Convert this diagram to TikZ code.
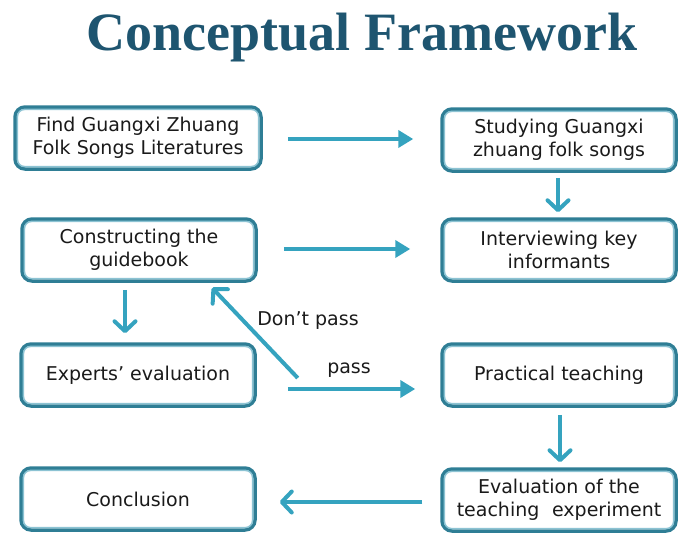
\documentclass[tikz,border=0pt]{standalone}
\usepackage{fontspec}
\setmainfont{DejaVu Sans}
\newfontfamily\titlefont{Liberation Serif}
\usetikzlibrary{arrows.meta,calc}
\definecolor{boxdark}{HTML}{2F7E95}
\definecolor{boxlight}{HTML}{8CC3D3}
\definecolor{arrowteal}{HTML}{35A3BF}
\definecolor{titleblue}{HTML}{1E5570}
\definecolor{bodytext}{HTML}{1A1A1A}
\begin{document}
\begin{tikzpicture}[x=1pt,y=-1pt,
  stage/.style={draw=boxdark, line width=3.5pt, rounded corners=10pt, fill=white,
    minimum width=234pt, minimum height=62pt, align=center, inner sep=0pt,
    text=bodytext, font=\fontsize{19}{23}\selectfont},
  innerline/.style={draw=boxlight, line width=1.5pt, rounded corners=7pt},
  flow/.style={draw=arrowteal, line width=4pt},
  solidhead/.style={flow, -{Triangle[length=15pt,width=17pt]}},
  openhead/.style={flow, -{Straight Barb[length=10pt,width=21pt,round]}},
  flowlabel/.style={text=bodytext, font=\fontsize{19}{23}\selectfont, anchor=base}
]
\useasboundingbox (0,0) rectangle (683,555);

% heading
\node[font=\titlefont\bfseries\fontsize{54}{60}\selectfont, text=titleblue, anchor=base]
  (title) at (362,50) {Conceptual Framework};

% stages
\node[stage, minimum width=246pt] (find) at (138,138) {Find Guangxi Zhuang\\Folk Songs Literatures};
\node[stage] (study)     at (559,140) {Studying Guangxi\\zhuang folk songs};
\node[stage] (construct) at (139,250) {Constructing the\\guidebook};
\node[stage] (interview) at (559,250) {Interviewing key\\informants};
\node[stage] (experts)   at (138,375) {Experts’ evaluation};
\node[stage] (practice)  at (559,375) {Practical teaching};
\node[stage] (conclude)  at (138,499) {Conclusion};
\node[stage] (evaluate)  at (559,500) {Evaluation of the\\teaching\hspace{0.35em} experiment};

% light inner rim of every box
\foreach \n in {find,study,construct,interview,experts,practice,conclude,evaluate}
  \draw[innerline] ($(\n.south west)+(4.2,-4.2)$) rectangle ($(\n.north east)+(-4.2,4.2)$);

% connector end points
\coordinate (s12) at ($(find.east)+(25,1)$);
\coordinate (s24) at ($(study.south)+(-1,5)$);
\coordinate (s34) at ($(construct.east)+(26,-1)$);
\coordinate (s35) at ($(construct.south)+(-14,7)$);
\coordinate (spass) at ($(experts.east)+(31,14)$);
\coordinate (sfail) at ($(experts.east)+(41,3)$);
\coordinate (tfail) at ($(construct.south)+(73,5)$);
\coordinate (s68) at ($(practice.south)+(1,7)$);
\coordinate (s87) at ($(evaluate.west)+(-18,2)$);

% connectors
\draw[solidhead, shorten >=27pt] (s12) -- (s12 -| study.west);
\draw[openhead, shorten >=5pt] (s24) -- (s24 |- interview.north);
\draw[solidhead, shorten >=30pt] (s34) -- (s34 -| interview.west);
\draw[openhead, shorten >=9pt] (s35) -- (s35 |- experts.north);
\draw[solidhead, shorten >=25pt] (spass) -- (spass -| practice.west);
\draw[openhead] (sfail) -- (tfail);
\draw[openhead, shorten >=5pt] (s68) -- (s68 |- evaluate.north);
\draw[openhead, shorten >=23pt] (s87) -- (s87 -| conclude.east);

% decision labels
\node[flowlabel] (lfail) at (308,325) {Don’t pass};
\node[flowlabel] (lpass) at (349,373) {pass};
\end{tikzpicture}
\end{document}
